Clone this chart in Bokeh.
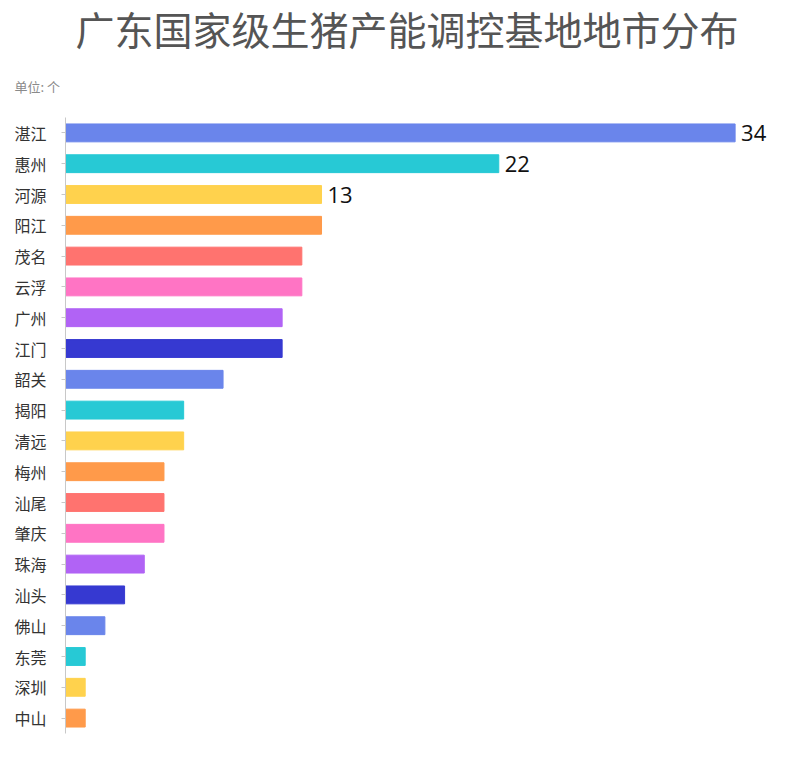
from bokeh.plotting import figure
from bokeh.models import ColumnDataSource, FactorRange, Range1d, Title
from bokeh.core.properties import value
from bokeh.embed import file_html
from bokeh.resources import INLINE

cities = ["湛江", "惠州", "河源", "阳江", "茂名", "云浮", "广州", "江门", "韶关", "揭阳",
          "清远", "梅州", "汕尾", "肇庆", "珠海", "汕头", "佛山", "东莞", "深圳", "中山"]
counts = [34, 22, 13, 13, 12, 12, 11, 11, 8, 6, 6, 5, 5, 5, 4, 3, 2, 1, 1, 1]
palette = ["#6A85EB", "#27C9D5", "#FFD24D", "#FF9A4A", "#FF736F", "#FF74C4", "#B163F5", "#3639D1"]
labelled = ["湛江", "惠州", "河源"]
title_text = "广东国家级生猪产能调控基地地市分布"
unit_text = "单位: 个"

colors = [palette[i % len(palette)] for i in range(len(cities))]
src = ColumnDataSource(dict(city=cities, count=counts, color=colors))
lab_idx = [cities.index(c) for c in labelled]
lab_src = ColumnDataSource(dict(city=[cities[i] for i in lab_idx],
                                count=[counts[i] for i in lab_idx],
                                txt=[str(counts[i]) for i in lab_idx]))

CJK = "Noto Sans CJK SC"
p = figure(width=784, height=750, output_backend="svg", toolbar_location=None,
           y_range=FactorRange(*reversed(cities), range_padding=0),
           x_range=Range1d(0, 36.0),
           min_border_left=65, min_border_right=10, min_border_bottom=17, min_border_top=10)

p.hbar(y="city", right="count", left=0, height=0.58, color="color", source=src)
p.text(x="count", y="city", text="txt", source=lab_src, x_offset=6,
       text_baseline="middle", text_font_size="22px", text_color="#111111",
       text_font=value("Open Sans"))

sub = Title(text=unit_text, align="left", text_font=CJK, text_font_size="13px",
            text_color="#8a8a8a", text_font_style="normal", offset=-51, standoff=43)
main = Title(text=title_text, align="left", text_font=CJK,
             text_font_size="39px", text_color="#555555", text_font_style="normal",
             offset=10, standoff=-5)
p.add_layout(sub, "above")
p.add_layout(main, "above")

p.xaxis.visible = False
p.xgrid.visible = False
p.ygrid.visible = False
p.outline_line_color = None
p.yaxis.axis_line_color = "#c8c8c8"
p.yaxis.major_tick_line_color = "#c8c8c8"
p.yaxis.major_tick_out = 4
p.yaxis.major_tick_in = 0
p.yaxis.major_label_standoff = 15
p.yaxis.major_label_text_font = CJK
p.yaxis.major_label_text_font_size = "16px"
p.yaxis.major_label_text_color = "#333333"

open("out.html", "w").write(file_html(p, INLINE))
